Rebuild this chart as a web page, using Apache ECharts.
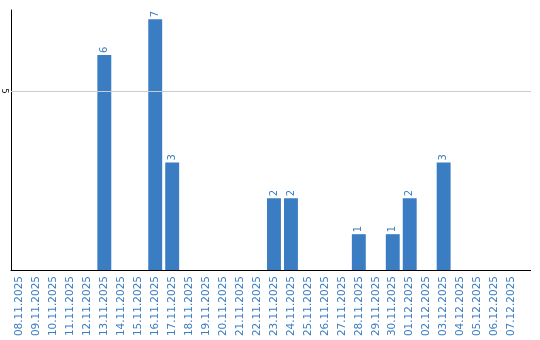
<!DOCTYPE html>
<html><head><meta charset="utf-8">
<script src="https://cdn.jsdelivr.net/npm/echarts@6/dist/echarts.min.js"></script>
<style>html,body{margin:0;padding:0;background:#fff}#c{width:540px;height:340px}</style>
</head><body><div id="c"></div>
<script>
const dates = ["08.11.2025","09.11.2025","10.11.2025","11.11.2025","12.11.2025","13.11.2025","14.11.2025","15.11.2025","16.11.2025","17.11.2025","18.11.2025","19.11.2025","20.11.2025","21.11.2025","22.11.2025","23.11.2025","24.11.2025","25.11.2025","26.11.2025","27.11.2025","28.11.2025","29.11.2025","30.11.2025","01.12.2025","02.12.2025","03.12.2025","04.12.2025","05.12.2025","06.12.2025","07.12.2025"];
const counts = [0,0,0,0,0,6,0,0,7,3,0,0,0,0,0,2,2,0,0,0,1,0,1,2,0,3,0,0,0,0];
const yTicks = [5];

const chart = echarts.init(document.getElementById('c'), null, {renderer:'canvas'});
const blue = '#3b7dc2';
chart.setOption({
  animation:false,
  grid:{left:10,right:20,top:10,bottom:70},
  xAxis:{type:'category',data:dates,
    axisLine:{lineStyle:{color:'#000',width:1}},
    axisTick:{show:false},
    axisLabel:{rotate:90,interval:0,color:blue,fontFamily:'DejaVu Sans',fontSize:10.5,margin:6}},
  yAxis:{type:'value',min:0,max:7.26,interval:5,
    axisLine:{show:true,lineStyle:{color:'#000',width:1}},
    axisTick:{show:false},
    splitLine:{show:false},
    axisLabel:{rotate:-90,margin:3,fontSize:8,fontFamily:'DejaVu Sans',color:'#000',
      formatter:v=> yTicks.includes(v)?String(v):''}},
  series:[{type:'bar',data:counts.map(v=>v===0?null:v),barCategoryGap:'18%',
    itemStyle:{color:blue},
    label:{show:true,position:'top',rotate:90,align:'left',verticalAlign:'middle',distance:2,
      color:blue,fontFamily:'DejaVu Sans',fontSize:10},
    markLine:{silent:true,symbol:'none',label:{show:false},
      lineStyle:{color:'#cccccc',type:'solid',width:1},
      data:yTicks.map(v=>({yAxis:v}))}}]
});
const gfx = [];
const p0 = chart.convertToPixel({gridIndex:0},[29,0]);
gfx.push({type:'line',shape:{x1:519,y1:Math.round(p0[1])+0.5,x2:531,y2:Math.round(p0[1])+0.5},style:{stroke:'#000',lineWidth:1}});
yTicks.forEach(v=>{
  const p = chart.convertToPixel({gridIndex:0},[29,v]);
  gfx.push({type:'line',shape:{x1:520,y1:Math.round(p[1])+0.5,x2:531,y2:Math.round(p[1])+0.5},style:{stroke:'#cccccc',lineWidth:1}});
});
chart.setOption({graphic:gfx});
</script></body></html>
